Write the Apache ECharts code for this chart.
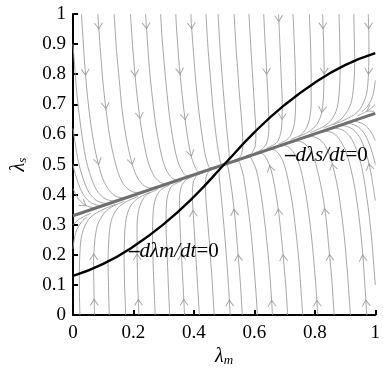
<!DOCTYPE html>
<html>
<head>
<meta charset="utf-8">
<script src="https://cdn.jsdelivr.net/npm/echarts@6/dist/echarts.min.js"></script>
<style>
  html, body { margin: 0; padding: 0; background: #fff; }
  #chart { width: 383px; height: 372px; }
</style>
</head>
<body>
<div id="chart"></div>
<script>
// nullclines
const nullMx = [0, 0.1, 0.2, 0.3, 0.4, 0.5, 0.6, 0.7, 0.8, 0.9, 1]
const nullMy = [0.13, 0.17, 0.228, 0.302, 0.393, 0.5, 0.607, 0.698, 0.772, 0.83, 0.87]
const nullSx = [0, 1]
const nullSy = [0.33, 0.67]

// tick labels
const xTickLabels = ['0', '0.2', '0.4', '0.6', '0.8', '1']
const yTickLabels = ['0', '0.1', '0.2', '0.3', '0.4', '0.5', '0.6', '0.7', '0.8', '0.9', '1']

// streamlines, each one listed in the direction of the flow
const streamsUpperLeft = [
  [[0.028,1],[0.038,0.843],[0.046,0.746],[0.057,0.649],[0.072,0.554],[0.095,0.462],[0.116,0.420],[0.137,0.397],[0.161,0.390],[0.19,0.397]],
  [[0.082,1],[0.092,0.861],[0.1,0.764],[0.111,0.668],[0.125,0.573],[0.147,0.48],[0.166,0.436],[0.188,0.414],[0.211,0.407],[0.24,0.414]],
  [[0.136,1],[0.144,0.879],[0.153,0.782],[0.162,0.685],[0.176,0.59],[0.197,0.497],[0.215,0.453],[0.235,0.43],[0.255,0.422],[0.29,0.431]],
  [[0.19,1],[0.197,0.897],[0.205,0.8],[0.215,0.703],[0.228,0.608],[0.247,0.514],[0.264,0.47],[0.282,0.446],[0.3,0.437],[0.335,0.446]],
  [[0.24,1],[0.246,0.913],[0.253,0.816],[0.263,0.719],[0.275,0.624],[0.293,0.53],[0.307,0.485],[0.323,0.46],[0.339,0.45],[0.37,0.458]],
  [[0.29,1],[0.294,0.93],[0.302,0.833],[0.311,0.736],[0.322,0.64],[0.338,0.545],[0.351,0.499],[0.364,0.474],[0.376,0.463],[0.40,0.468]],
  [[0.34,1],[0.343,0.947],[0.35,0.849],[0.359,0.752],[0.37,0.656],[0.384,0.561],[0.395,0.514],[0.406,0.488],[0.415,0.476],[0.44,0.482]],
  [[0.39,1],[0.392,0.963],[0.399,0.866],[0.407,0.768],[0.417,0.672],[0.43,0.576],[0.438,0.529],[0.446,0.502],[0.452,0.489],[0.47,0.492]],
  [[0.44,1],[0.447,0.882],[0.455,0.785],[0.463,0.688],[0.474,0.591],[0.481,0.544],[0.486,0.515],[0.49,0.501]],
  [[0.48,1],[0.486,0.895],[0.493,0.798],[0.501,0.7],[0.51,0.603],[0.515,0.555],[0.517,0.526],[0.512,0.508]],
  [[0,0.9],[0.005,0.832],[0.013,0.734],[0.024,0.638],[0.038,0.543],[0.048,0.496],[0.062,0.451],[0.073,0.425],[0.083,0.408],[0.097,0.393],[0.107,0.386],[0.121,0.381],[0.131,0.380],[0.16,0.387]],
  [[0,0.62],[0.013,0.535],[0.023,0.488],[0.037,0.443],[0.048,0.416],[0.058,0.4],[0.072,0.385],[0.082,0.378],[0.096,0.373],[0.106,0.371],[0.135,0.378]],
  [[0,0.5],[0.004,0.481],[0.018,0.436],[0.029,0.41],[0.039,0.393],[0.053,0.378],[0.063,0.371],[0.077,0.366],[0.087,0.364],[0.11,0.369]],
  [[0,0.42],[0.008,0.403],[0.018,0.386],[0.032,0.371],[0.042,0.364],[0.056,0.359],[0.065,0.357],[0.085,0.361]]
]

const streamsLowerLeft = [
  [[0.023,0],[0.022,0.0375],[0.021,0.087],[0.021,0.137],[0.022,0.187],[0.025,0.239],[0.030,0.27],[0.038,0.293],[0.052,0.318],[0.069,0.334],[0.088,0.345],[0.111,0.356],[0.14,0.368]],
  [[0.071,0],[0.07,0.054],[0.069,0.103],[0.068,0.153],[0.069,0.204],[0.073,0.255],[0.078,0.287],[0.085,0.309],[0.1,0.334],[0.112,0.348],[0.126,0.358],[0.143,0.367],[0.17,0.378]],
  [[0.12,0],[0.118,0.07],[0.117,0.12],[0.116,0.17],[0.117,0.22],[0.12,0.271],[0.124,0.302],[0.13,0.324],[0.143,0.349],[0.156,0.363],[0.17,0.373],[0.185,0.381],[0.215,0.394]],
  [[0.174,0],[0.173,0.039],[0.171,0.088],[0.17,0.138],[0.169,0.188],[0.17,0.238],[0.172,0.288],[0.176,0.32],[0.181,0.341],[0.192,0.365],[0.204,0.379],[0.215,0.388],[0.227,0.395],[0.255,0.408]],
  [[0.218,0],[0.216,0.053],[0.214,0.103],[0.213,0.152],[0.212,0.202],[0.212,0.252],[0.212,0.302],[0.215,0.333],[0.219,0.355],[0.227,0.377],[0.235,0.39],[0.241,0.397],[0.248,0.403],[0.28,0.417]],
  [[0.272,0],[0.269,0.0715],[0.267,0.121],[0.265,0.17],[0.264,0.22],[0.263,0.269],[0.264,0.32],[0.266,0.35],[0.269,0.372],[0.276,0.394],[0.282,0.406],[0.288,0.413],[0.294,0.419],[0.32,0.432]],
  [[0.32,0],[0.316,0.087],[0.314,0.137],[0.312,0.186],[0.31,0.235],[0.308,0.285],[0.308,0.335],[0.309,0.365],[0.311,0.386],[0.316,0.407],[0.321,0.419],[0.324,0.425],[0.333,0.433],[0.36,0.446]],
  [[0.369,0],[0.364,0.104],[0.361,0.153],[0.359,0.202],[0.356,0.251],[0.354,0.3],[0.352,0.35],[0.352,0.38],[0.353,0.4],[0.357,0.421],[0.361,0.433],[0.371,0.446],[0.38,0.453],[0.40,0.461]],
  [[0.418,0],[0.411,0.12],[0.408,0.169],[0.405,0.218],[0.402,0.267],[0.399,0.316],[0.396,0.365],[0.395,0.394],[0.395,0.414],[0.397,0.435],[0.399,0.446],[0.406,0.458],[0.409,0.464],[0.43,0.472]],
  [[0.467,0],[0.459,0.136],[0.455,0.185],[0.452,0.234],[0.448,0.282],[0.444,0.331],[0.44,0.38],[0.439,0.409],[0.438,0.429],[0.439,0.449],[0.441,0.46],[0.445,0.471],[0.453,0.48],[0.47,0.487]],
  [[0,0.30],[0.017,0.316],[0.035,0.327],[0.059,0.338]],
  [[0,0.22],[0.001,0.23],[0.006,0.262],[0.013,0.2845],[0.028,0.3095],[0.045,0.325]]
]

const streamsUpperRight = [
  [[0.977,1],[0.978,0.963],[0.979,0.913],[0.979,0.863],[0.978,0.813],[0.975,0.761],[0.97,0.73],[0.962,0.707],[0.948,0.682],[0.931,0.666],[0.912,0.655],[0.889,0.644],[0.86,0.632]],
  [[0.929,1],[0.93,0.946],[0.931,0.897],[0.932,0.847],[0.931,0.796],[0.927,0.745],[0.922,0.713],[0.915,0.691],[0.9,0.666],[0.888,0.652],[0.874,0.642],[0.857,0.633],[0.83,0.622]],
  [[0.88,1],[0.882,0.93],[0.883,0.88],[0.884,0.83],[0.883,0.78],[0.88,0.729],[0.876,0.698],[0.87,0.676],[0.857,0.651],[0.844,0.637],[0.83,0.627],[0.815,0.619],[0.785,0.606]],
  [[0.826,1],[0.827,0.961],[0.829,0.912],[0.83,0.862],[0.831,0.812],[0.83,0.762],[0.828,0.712],[0.824,0.68],[0.819,0.659],[0.808,0.635],[0.796,0.621],[0.785,0.612],[0.773,0.605],[0.745,0.592]],
  [[0.782,1],[0.784,0.947],[0.786,0.897],[0.787,0.848],[0.788,0.798],[0.788,0.748],[0.788,0.698],[0.785,0.667],[0.781,0.645],[0.773,0.623],[0.765,0.61],[0.759,0.603],[0.752,0.597],[0.72,0.583]],
  [[0.728,1],[0.731,0.9285],[0.733,0.879],[0.735,0.83],[0.736,0.78],[0.737,0.731],[0.736,0.68],[0.734,0.65],[0.731,0.628],[0.724,0.606],[0.718,0.594],[0.712,0.587],[0.706,0.581],[0.68,0.568]],
  [[0.68,1],[0.684,0.913],[0.686,0.863],[0.688,0.814],[0.69,0.765],[0.692,0.715],[0.692,0.665],[0.691,0.635],[0.689,0.614],[0.684,0.593],[0.679,0.581],[0.676,0.575],[0.667,0.567],[0.64,0.554]],
  [[0.631,1],[0.636,0.896],[0.639,0.847],[0.641,0.798],[0.644,0.749],[0.646,0.7],[0.648,0.65],[0.648,0.62],[0.647,0.6],[0.643,0.579],[0.639,0.567],[0.629,0.554],[0.62,0.547],[0.60,0.539]],
  [[0.582,1],[0.589,0.88],[0.592,0.831],[0.595,0.782],[0.598,0.733],[0.601,0.684],[0.604,0.635],[0.605,0.606],[0.605,0.586],[0.603,0.565],[0.601,0.554],[0.594,0.542],[0.591,0.536],[0.57,0.528]],
  [[0.533,1],[0.541,0.864],[0.545,0.815],[0.548,0.766],[0.552,0.718],[0.556,0.669],[0.56,0.62],[0.561,0.591],[0.562,0.571],[0.561,0.551],[0.559,0.54],[0.555,0.529],[0.547,0.52],[0.53,0.513]],
  [[1,0.70],[0.983,0.684],[0.965,0.673],[0.941,0.662]],
  [[1,0.78],[0.999,0.77],[0.994,0.738],[0.987,0.7155],[0.972,0.6905],[0.955,0.675]]
]

const streamsLowerRight = [
  [[0.972,0],[0.962,0.157],[0.954,0.254],[0.943,0.351],[0.928,0.446],[0.905,0.538],[0.884,0.58],[0.863,0.603],[0.839,0.61],[0.81,0.603]],
  [[0.918,0],[0.908,0.139],[0.9,0.236],[0.889,0.332],[0.875,0.427],[0.853,0.52],[0.834,0.564],[0.812,0.586],[0.789,0.593],[0.76,0.586]],
  [[0.864,0],[0.856,0.121],[0.847,0.218],[0.838,0.315],[0.824,0.41],[0.803,0.503],[0.785,0.547],[0.765,0.57],[0.745,0.578],[0.71,0.569]],
  [[0.81,0],[0.803,0.103],[0.795,0.2],[0.785,0.297],[0.772,0.392],[0.753,0.486],[0.736,0.53],[0.718,0.554],[0.7,0.563],[0.665,0.554]],
  [[0.76,0],[0.754,0.087],[0.747,0.184],[0.737,0.281],[0.725,0.376],[0.707,0.47],[0.693,0.515],[0.677,0.54],[0.661,0.55],[0.63,0.542]],
  [[0.71,0],[0.706,0.07],[0.698,0.167],[0.689,0.264],[0.678,0.36],[0.662,0.455],[0.649,0.501],[0.636,0.526],[0.624,0.537],[0.60,0.532]],
  [[0.66,0],[0.657,0.053],[0.65,0.151],[0.641,0.248],[0.63,0.344],[0.616,0.439],[0.605,0.486],[0.594,0.512],[0.585,0.524],[0.56,0.518]],
  [[0.61,0],[0.608,0.037],[0.601,0.134],[0.593,0.232],[0.583,0.328],[0.57,0.424],[0.562,0.471],[0.554,0.498],[0.548,0.511],[0.53,0.508]],
  [[0.56,0],[0.553,0.118],[0.545,0.215],[0.537,0.312],[0.526,0.409],[0.519,0.456],[0.514,0.485],[0.51,0.499]],
  [[0.52,0],[0.514,0.105],[0.507,0.202],[0.499,0.3],[0.49,0.397],[0.485,0.445],[0.483,0.474],[0.488,0.492]],
  [[1,0.1],[0.995,0.168],[0.987,0.266],[0.976,0.362],[0.962,0.457],[0.952,0.504],[0.938,0.549],[0.927,0.575],[0.917,0.592],[0.903,0.607],[0.893,0.614],[0.879,0.619],[0.869,0.62],[0.84,0.613]],
  [[1,0.38],[0.987,0.465],[0.977,0.512],[0.963,0.557],[0.952,0.584],[0.942,0.6],[0.928,0.615],[0.918,0.622],[0.904,0.627],[0.894,0.629],[0.865,0.622]],
  [[1,0.5],[0.996,0.519],[0.982,0.564],[0.971,0.59],[0.961,0.607],[0.947,0.622],[0.937,0.629],[0.923,0.634],[0.913,0.636],[0.89,0.631]],
  [[1,0.58],[0.992,0.597],[0.982,0.614],[0.968,0.629],[0.958,0.636],[0.944,0.641],[0.935,0.643],[0.915,0.639]]
]

// where the little arrow heads sit (they snap onto the nearest streamline)
const arrowMarks = [
  [0.088,0.961],[0.239,0.961],[0.393,0.961],[0.674,0.985],[0.821,0.961],[0.967,0.961],
  [0.064,0.809],[0.223,0.806],[0.358,0.811],[0.661,0.811],[0.832,0.811],[0.970,0.811],
  [0.093,0.694],[0.207,0.661],[0.389,0.661],[0.678,0.661],[0.828,0.683],[0.981,0.683],
  [0.071,0.508],[0.207,0.513],[0.369,0.533],[0.033,0.367],
  [0.667,0.49],[0.851,0.49],[0.970,0.49],
  [0.407,0.338],[0.526,0.34],[0.661,0.34],[0.807,0.34],
  [0.071,0.193],[0.214,0.193],[0.367,0.193],[0.548,0.19],[0.695,0.19],[0.840,0.19],[0.972,0.19],
  [0.071,0.042],[0.219,0.042],[0.372,0.042],[0.526,0.04],[0.674,0.04],[0.824,0.04],[0.970,0.04]
]

const allStreams = [].concat(streamsUpperLeft, streamsLowerLeft, streamsUpperRight, streamsLowerRight)

const serif = "'Liberation Serif', 'Times New Roman', serif"
const streamColor = '#9c9c9c'

const chart = echarts.init(document.getElementById('chart'), null, { renderer: 'canvas' })

const series = allStreams.map((pts) => ({
  type: 'line',
  data: pts,
  showSymbol: false,
  symbol: 'none',
  smooth: 0.3,
  silent: true,
  z: 1,
  lineStyle: { color: streamColor, width: 0.9 },
}))

series.push({
  type: 'line',
  data: nullSx.map((x, i) => [x, nullSy[i]]),
  symbol: 'none',
  silent: true,
  z: 3,
  lineStyle: { color: '#6f6f6f', width: 3 },
})
series.push({
  type: 'line',
  data: nullMx.map((x, i) => [x, nullMy[i]]),
  symbol: 'none',
  smooth: 0.5,
  silent: true,
  z: 4,
  lineStyle: { color: '#000', width: 2.4 },
})

const nameRich = {
  i: { fontFamily: serif, fontSize: 20, fontStyle: 'italic', color: '#000', verticalAlign: 'bottom', lineHeight: 22 },
  s: { fontFamily: serif, fontSize: 13, fontStyle: 'italic', color: '#000', verticalAlign: 'bottom', lineHeight: 16 },
}
const labelRich = {
  b: { fontFamily: serif, fontSize: 21, fontWeight: 'bold', fill: '#000' },
  i: { fontFamily: serif, fontSize: 21, fontStyle: 'italic', fill: '#000' },
  n: { fontFamily: serif, fontSize: 21, fill: '#000' },
}

const option = {
  animation: false,
  backgroundColor: '#fff',
  grid: { left: 73, right: 2, top: 14, bottom: 48 },
  xAxis: {
    type: 'value',
    min: 0,
    max: 1,
    interval: 0.2,
    name: '{i|λ}{s|m}',
    nameLocation: 'middle',
    nameGap: 26,
    nameTextStyle: { rich: nameRich },
    axisLine: { show: true, lineStyle: { color: '#000', width: 2 } },
    axisTick: { show: true, inside: true, length: 5, lineStyle: { color: '#000', width: 2 } },
    axisLabel: {
      color: '#000',
      fontFamily: serif,
      fontSize: 19,
      margin: 8,
      formatter: (v) => xTickLabels[Math.round(v / 0.2)],
    },
    splitLine: { show: false },
  },
  yAxis: {
    type: 'value',
    min: 0,
    max: 1,
    interval: 0.1,
    name: '{i|λ}{s|s}',
    nameLocation: 'middle',
    nameGap: 44,
    nameRotate: 90,
    nameTextStyle: { rich: nameRich },
    axisLine: { show: true, lineStyle: { color: '#000', width: 2 } },
    axisTick: { show: true, inside: true, length: 5, lineStyle: { color: '#000', width: 2 } },
    axisLabel: {
      color: '#000',
      fontFamily: serif,
      fontSize: 19,
      margin: 7,
      formatter: (v) => yTickLabels[Math.round(v / 0.1)],
    },
    splitLine: { show: false },
  },
  graphic: [
    {
      type: 'text',
      left: 285,
      top: 145,
      z: 10,
      style: { text: '{b|–}{i|dλs/dt}{n|=0}', rich: labelRich },
    },
    {
      type: 'text',
      left: 129,
      top: 241,
      z: 10,
      style: { text: '{b|–}{i|dλm/dt}{n|=0}', rich: labelRich },
    },
  ],
  series,
}

chart.setOption(option)

// arrow heads: snap each mark onto the closest streamline and point it along the flow
const pixLines = allStreams.map((pts) => pts.map((p) => chart.convertToPixel({ gridIndex: 0 }, p)))
const arrowData = []
arrowMarks.forEach((m) => {
  const q = chart.convertToPixel({ gridIndex: 0 }, m)
  let best = null
  pixLines.forEach((pl) => {
    for (let i = 0; i < pl.length - 1; i++) {
      const a = pl[i]
      const b = pl[i + 1]
      const dx = b[0] - a[0]
      const dy = b[1] - a[1]
      const len2 = dx * dx + dy * dy
      if (!len2) continue
      let t = ((q[0] - a[0]) * dx + (q[1] - a[1]) * dy) / len2
      t = Math.max(0, Math.min(1, t))
      const px = a[0] + t * dx
      const py = a[1] + t * dy
      const d = Math.hypot(q[0] - px, q[1] - py)
      if (!best || d < best.d) best = { d, px, py, dx, dy }
    }
  })
  if (best && best.d < 12) {
    const ang = Math.atan2(-best.dy, best.dx) * 180 / Math.PI
    arrowData.push({
      value: chart.convertFromPixel({ gridIndex: 0 }, [best.px, best.py]),
      symbolRotate: ang + 90,
    })
  }
})

chart.setOption({
  series: series.concat([{
    type: 'scatter',
    data: arrowData,
    symbol: 'path://M0,0L5,7L10,0',
    symbolSize: [8, 6],
    silent: true,
    z: 2,
    itemStyle: { color: 'none', borderColor: '#8f8f8f', borderWidth: 0.9 },
  }]),
})
</script>
</body>
</html>
